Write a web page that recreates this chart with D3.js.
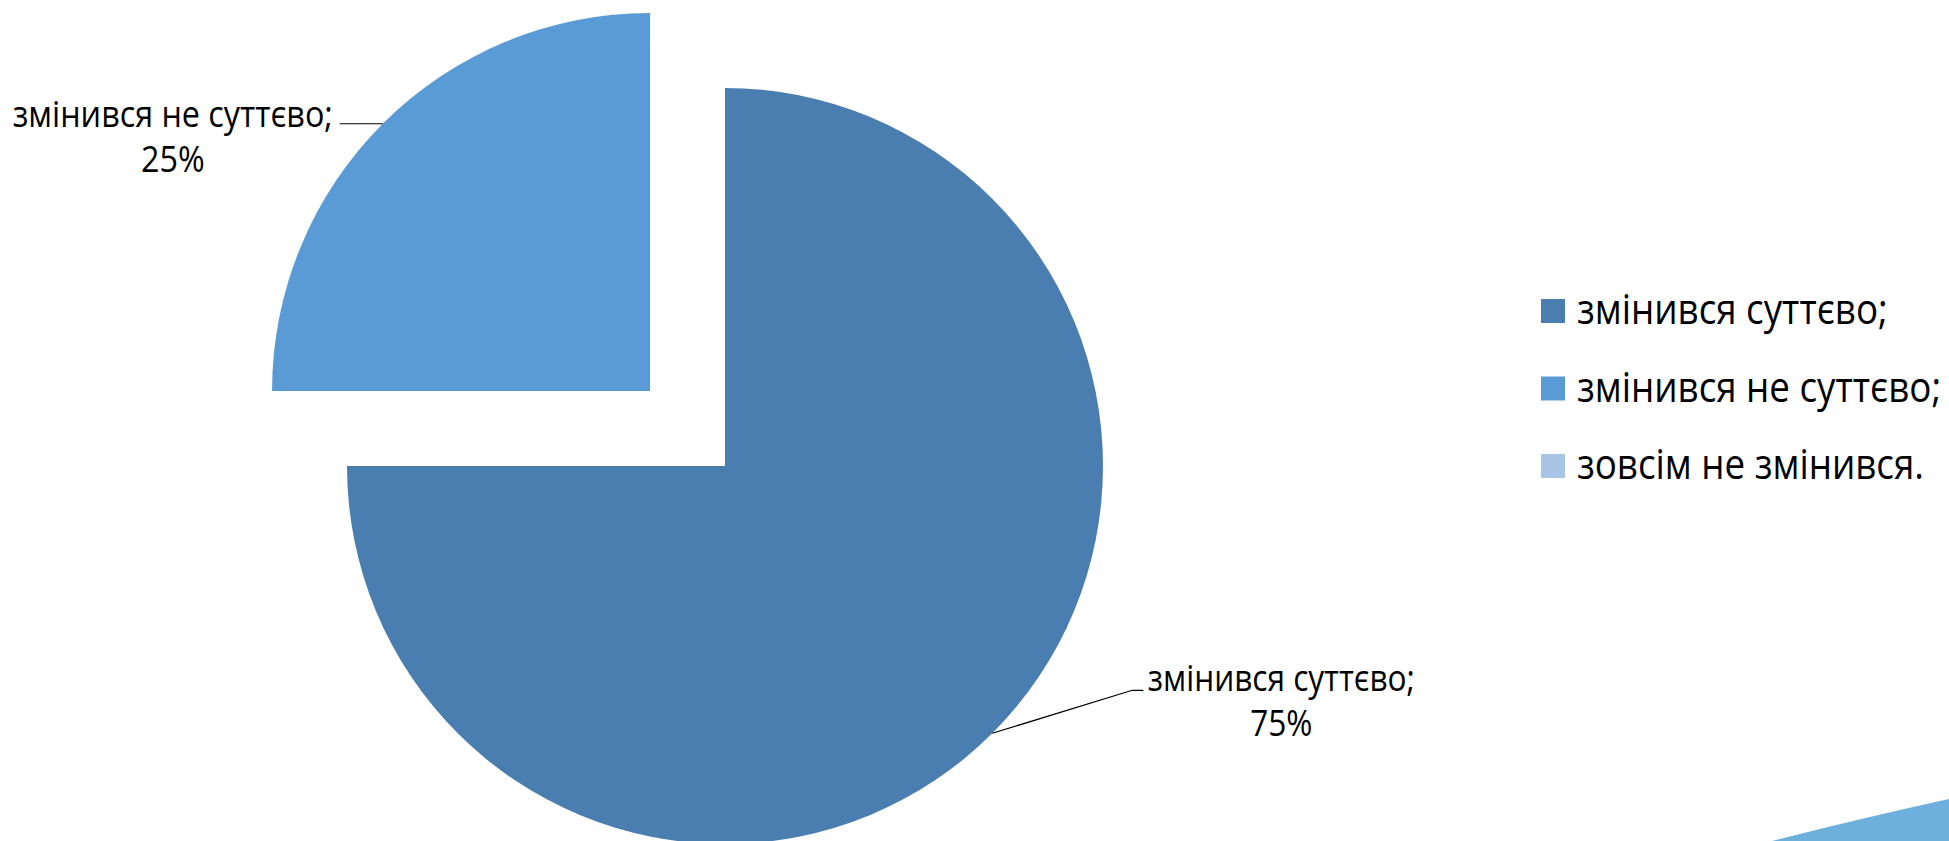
<!DOCTYPE html>
<html>
<head>
<meta charset="utf-8">
<script src="https://cdn.jsdelivr.net/npm/d3@7"></script>
<style>
  html, body { margin: 0; padding: 0; background: #fff; overflow: hidden; }
  svg { display: block; }
  text { font-family: "Open Sans", "Noto Sans", "DejaVu Sans", sans-serif; fill: #000; }
</style>
</head>
<body>
<svg id="chart" width="1949" height="841"></svg>
<script>
// ---- data ----
const categories = ["змінився суттєво;", "змінився не суттєво;", "зовсім не змінився."];
const values = [75, 25, 0];
const percentLabels = ["75%", "25%", "0%"];
const colors = ["#4A7EB0", "#5B9BD5", "#A9C5E6"];
const exploded = [false, true, false];

// ---- layout ----
const W = 1949, H = 841;
const cx = 725, cy = 466, R = 378;
const explodeDist = 106;
const squeeze = 0.88; // horizontal glyph compression to mimic a narrower face

const svg = d3.select("#chart");

// decorative swoosh bottom-right
svg.append("path")
  .attr("d", "M1772,841 Q1862,818 1949,799 L1949,841 Z")
  .attr("fill", "#6DAFDD");

const pie = d3.pie().sort(null).value(d => d)(values);
const arc = d3.arc().innerRadius(0).outerRadius(R);

function offsetOf(d, i) {
  if (!exploded[i]) return [0, 0];
  const a = (d.startAngle + d.endAngle) / 2;
  return [Math.sin(a) * explodeDist, -Math.cos(a) * explodeDist];
}

const g = svg.append("g").attr("transform", `translate(${cx},${cy})`);
g.selectAll("path.slice")
  .data(pie)
  .join("path")
  .attr("class", "slice")
  .attr("d", arc)
  .attr("fill", (d, i) => colors[i])
  .attr("transform", (d, i) => { const o = offsetOf(d, i); return `translate(${o[0]},${o[1]})`; });

// text helpers: text placed at origin inside a group squeezed horizontally
function addText(parent, x, y, str, anchor) {
  const grp = parent.append("g")
    .attr("transform", `translate(${x},${y}) scale(${squeeze},1)`);
  return grp.append("text").attr("x", 0).attr("y", 0)
    .attr("text-anchor", anchor).text(str);
}
function fitSize(sel, targetWidth) {
  const base = 40;
  sel.style("font-size", base + "px");
  const w = sel.node().getComputedTextLength();
  return base * targetWidth / (w * squeeze);
}

const labelG = svg.append("g");
pie.forEach((d, i) => {
  if (d.value <= 0) return;
  const a = (d.startAngle + d.endAngle) / 2;
  const o = offsetOf(d, i);
  const px = cx + o[0] + Math.sin(a) * R;
  const py = cy + o[1] - Math.cos(a) * R;
  const right = Math.sin(a) > 0;
  let pts, tx, ty;
  if (right) {
    const ex = px + 140, ey = py - 43;
    pts = [[px, py], [ex, ey], [ex + 11, ey]];
    tx = ex + 149; ty = ey + 1;
  } else {
    pts = [[px, py], [px - 43, py]];
    tx = px - 210; ty = py + 3;
  }
  labelG.append("path")
    .attr("d", d3.line()(pts))
    .attr("fill", "none")
    .attr("stroke", "#000")
    .attr("stroke-width", 1.2);
  const t1 = addText(labelG, tx, ty, categories[i], "middle");
  const fs = fitSize(t1, right ? 267 : 320);
  t1.style("font-size", fs + "px");
  addText(labelG, tx, ty + 45, percentLabels[i], "middle").style("font-size", fs + "px");
});

// legend
const legX = 1541, legY0 = 299, legStep = 77.5, sq = 24;
const leg = svg.append("g");
const legTexts = [];
categories.forEach((c, i) => {
  const y = legY0 + i * legStep;
  leg.append("rect")
    .attr("x", legX).attr("y", y)
    .attr("width", sq).attr("height", sq)
    .attr("fill", colors[i]);
  legTexts.push(addText(leg, legX + 36, y + 25, c, "start"));
});
const legFs = fitSize(legTexts[1], 364);
legTexts.forEach(t => t.style("font-size", legFs + "px"));
</script>
</body>
</html>
